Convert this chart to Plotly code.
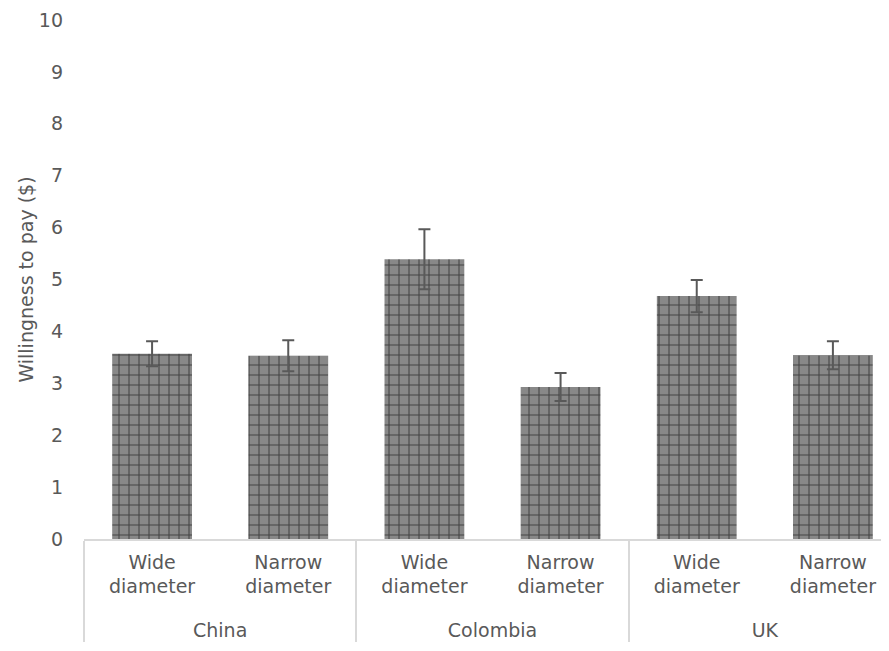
import plotly.graph_objects as go

countries = ["<br>China", "<br>China", "<br>Colombia", "<br>Colombia", "<br>UK", "<br>UK"]
sizes = ["Wide<br>diameter", "Narrow<br>diameter"] * 3
values = [3.57, 3.53, 5.39, 2.93, 4.68, 3.54]
errors = [0.24, 0.30, 0.58, 0.27, 0.31, 0.27]
y_ticks = list(range(0, 11))

fig = go.Figure(go.Bar(
    x=[countries, sizes],
    y=values,
    width=0.586,
    marker=dict(
        color="#888888",
        line=dict(width=0),
        pattern=dict(shape="+", size=10, solidity=0.2, fgcolor="#000000",
                     bgcolor="#888888", fillmode="overlay"),
    ),
    error_y=dict(type="data", array=errors, visible=True, color="#595959",
                 thickness=2, width=6),
))

font = dict(family="DejaVu Sans", size=19, color="#595959")
fig.update_layout(
    width=881, height=643,
    margin=dict(l=76, r=0, t=12, b=112),
    plot_bgcolor="white", paper_bgcolor="white",
    font=font, showlegend=False,
    xaxis=dict(
        type="multicategory", range=[-0.5, 5.412], automargin=False,
        showline=True, linecolor="#d9d9d9", linewidth=1.5,
        showgrid=False, ticks="", showdividers=True,
        dividercolor="#d9d9d9", dividerwidth=1.5,
        tickfont=font, ticklabelstandoff=5,
    ),
    yaxis=dict(
        range=[0, 10], tickvals=y_ticks, showgrid=False, zeroline=False,
        showline=False, ticks="", tickfont=font, ticklabelstandoff=20,
        automargin=False,
        title=dict(text="Willingness to pay ($)", font=font, standoff=0),
    ),
)

fig.write_html("out.html")
